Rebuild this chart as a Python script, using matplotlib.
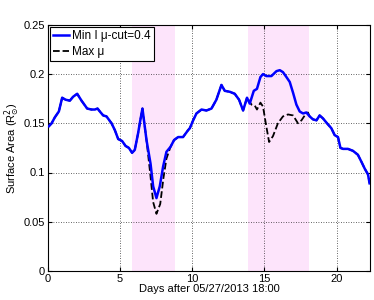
import numpy as np
import matplotlib.pyplot as plt

plt.rcParams['font.family'] = ['Liberation Sans', 'DejaVu Sans']

# days after 05/27/2013 18:00
days = [0.07, 0.26, 0.48, 0.76, 0.99, 1.22, 1.52, 1.75, 2.03, 2.33, 2.72, 3.02, 3.25, 3.44,
        3.60, 3.83, 4.06, 4.41, 4.64, 4.87, 5.14, 5.38, 5.61, 5.83, 6.02, 6.25, 6.40, 6.55,
        6.83, 7.11, 7.29, 7.52, 7.75, 7.98, 8.21, 8.49, 8.74, 9.02, 9.36, 9.71, 9.83, 10.06,
        10.29, 10.64, 10.98, 11.33, 11.67, 12.02, 12.25, 12.60, 12.94, 13.24, 13.52, 13.79,
        13.98, 14.26, 14.48, 14.72, 14.90, 15.13, 15.48, 15.83, 16.06, 16.28, 16.52, 16.75,
        16.98, 17.21, 17.44, 17.67, 17.90, 18.13, 18.36, 18.60, 18.82, 19.05, 19.33, 19.63,
        19.86, 20.09, 20.26, 20.44, 20.78, 21.13, 21.47, 21.71, 21.94, 22.17, 22.28]
area_min = [0.147, 0.150, 0.156, 0.162, 0.176, 0.174, 0.173, 0.177, 0.180, 0.173, 0.165, 0.164,
            0.164, 0.165, 0.162, 0.158, 0.157, 0.150, 0.143, 0.134, 0.132, 0.127, 0.125, 0.120,
            0.123, 0.140, 0.153, 0.165, 0.133, 0.109, 0.086, 0.074, 0.086, 0.106, 0.121, 0.126,
            0.133, 0.136, 0.136, 0.143, 0.145, 0.153, 0.160, 0.164, 0.163, 0.165, 0.174, 0.189,
            0.183, 0.182, 0.180, 0.174, 0.163, 0.176, 0.170, 0.183, 0.185, 0.197, 0.200, 0.198,
            0.198, 0.203, 0.204, 0.202, 0.197, 0.192, 0.181, 0.169, 0.162, 0.160, 0.161, 0.157,
            0.154, 0.153, 0.158, 0.155, 0.150, 0.145, 0.138, 0.136, 0.125, 0.124, 0.124, 0.122,
            0.118, 0.111, 0.104, 0.098, 0.089]

days_max = days[:28] + [6.83, 7.08, 7.29, 7.52, 7.78, 8.0, 8.21] + days[35:53] + \
    [13.79, 14.10, 14.33, 14.48, 14.72, 14.90, 15.09, 15.32, 15.59, 15.93, 16.28, 16.63,
     16.98, 17.32, 17.56, 17.79, 18.01] + days[71:]
area_max = area_min[:28] + [0.133, 0.100, 0.070, 0.058, 0.068, 0.094, 0.114] + area_min[35:53] + \
    [0.176, 0.169, 0.168, 0.164, 0.171, 0.167, 0.150, 0.131, 0.137, 0.150, 0.157, 0.159,
     0.158, 0.150, 0.153, 0.158, 0.161] + area_min[71:]

spans = [(5.81, 8.79), (13.84, 18.06)]

fig = plt.figure(figsize=(3.74, 3.0), dpi=100)
ax = fig.add_axes([0.128, 0.097, 0.861, 0.82])

for a, b in spans:
    ax.axvspan(a, b, color='#fde4fb', lw=0, zorder=0)

ax.plot(days_max, area_max, color='black', ls='--', lw=1.3, zorder=3)
ax.plot(days, area_min, color='#0000ff', lw=1.8, zorder=4, label='Min I \u03bc-cut=0.4')
ax.plot([], [], color='black', ls='--', lw=1.3, label='Max \u03bc')

ax.set_xlim(0, 22.3)
ax.set_ylim(0, 0.25)
ax.set_xticks([0, 5, 10, 15, 20])
ax.set_yticks([0, 0.05, 0.1, 0.15, 0.2, 0.25])
ax.set_yticklabels(['0', '0.05', '0.1', '0.15', '0.2', '0.25'])
ax.tick_params(direction='in', labelsize=8, top=True, right=True, length=3, pad=2)
ax.grid(True, color='black', ls=(0, (1, 2)), lw=0.6, alpha=0.8)
for s in ax.spines.values():
    s.set_linewidth(0.8)

ax.set_xlabel('Days after 05/27/2013 18:00', fontsize=8, labelpad=0)
ax.set_ylabel(r'Surface Area (R$_{\odot}^{2}$)', fontsize=8, labelpad=1)

leg = ax.legend(loc='upper left', fontsize=8.5, fancybox=False, edgecolor='black',
                framealpha=1, handlelength=1.3, handletextpad=0.3, borderaxespad=0.15,
                borderpad=0.3, labelspacing=0.3)
leg.get_frame().set_linewidth(0.8)

fig.savefig('out.png', dpi=100)
